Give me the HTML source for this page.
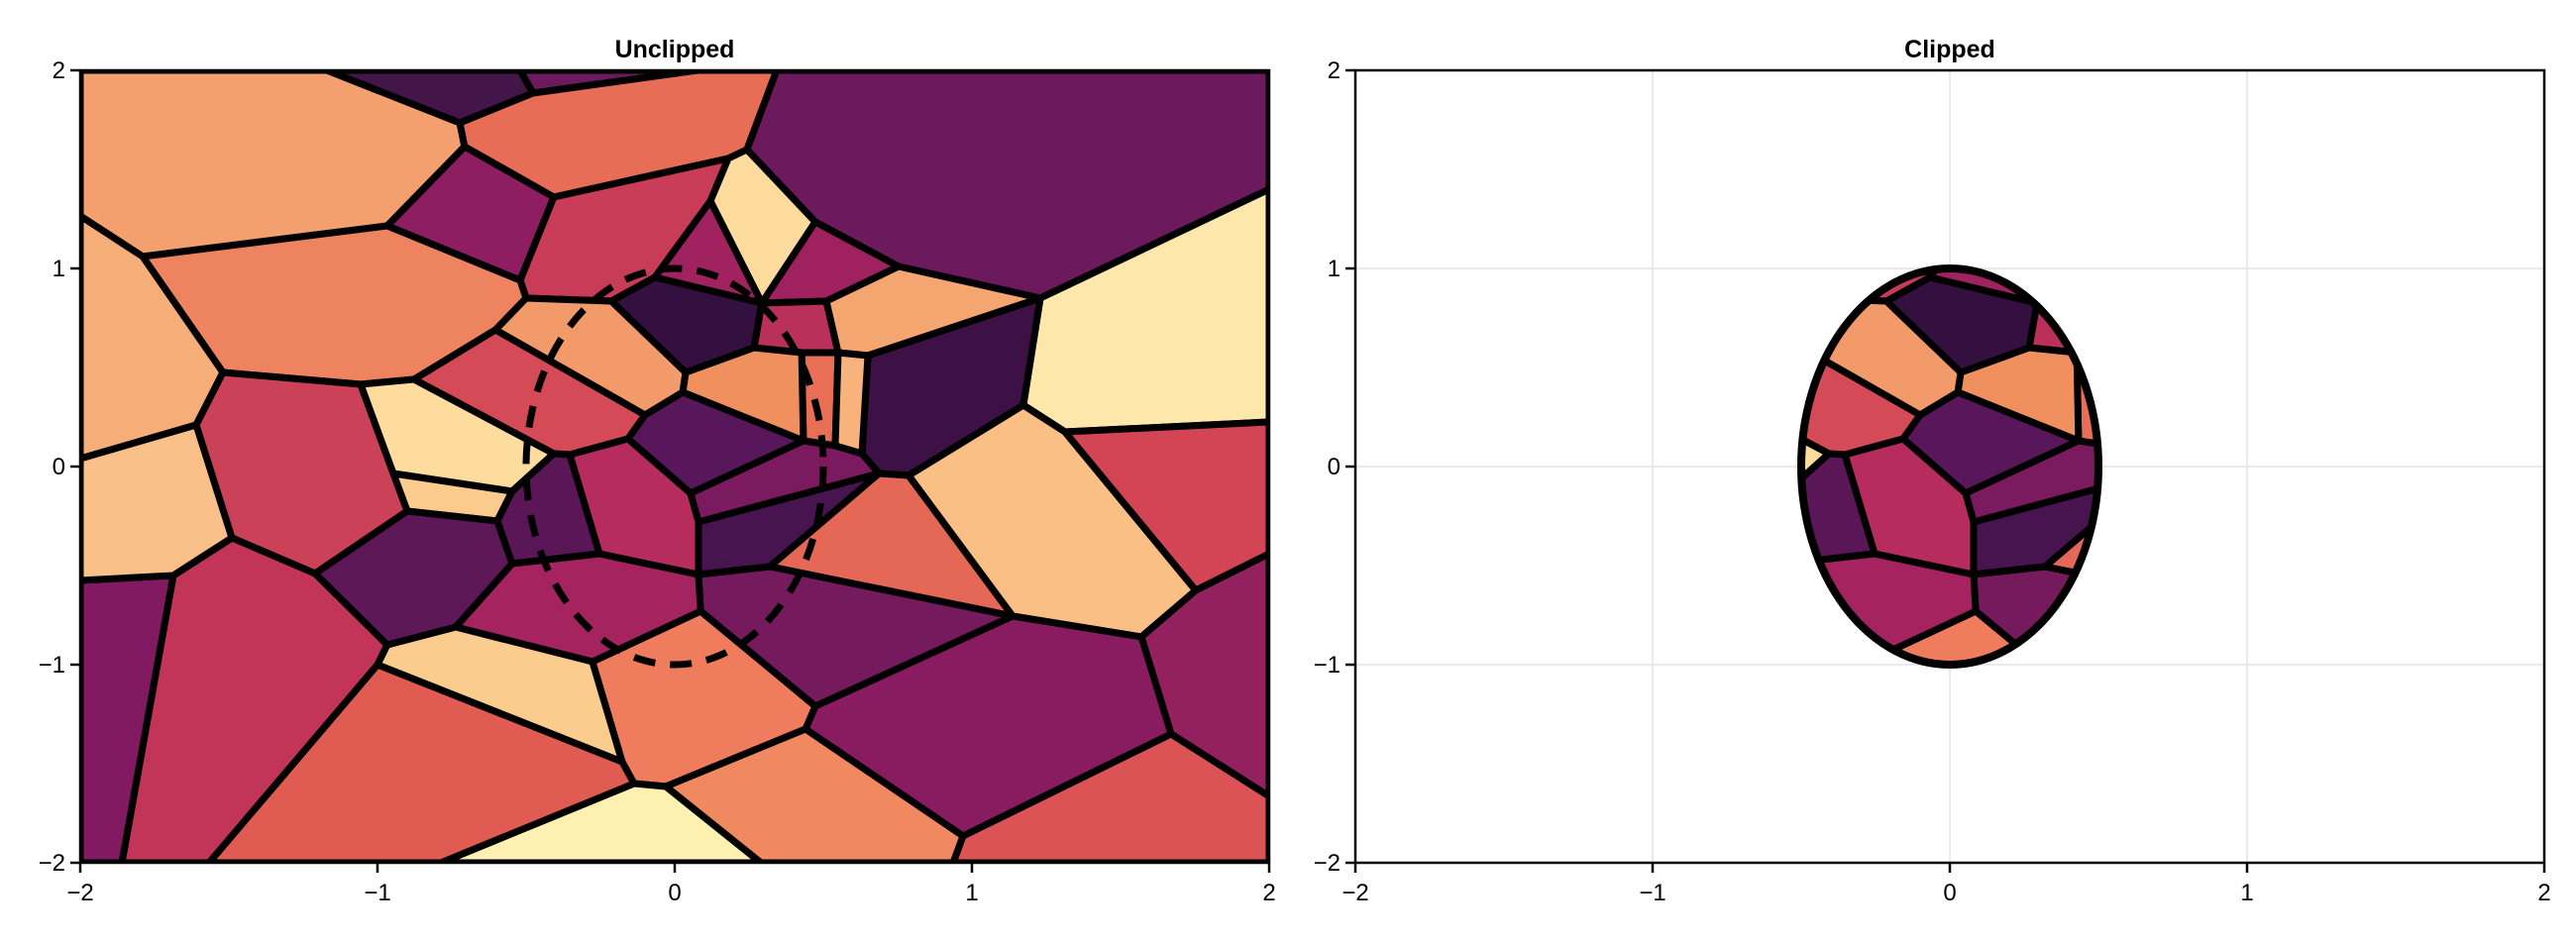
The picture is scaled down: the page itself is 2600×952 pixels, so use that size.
<!DOCTYPE html>
<html><head><meta charset="utf-8"><style>
html,body{margin:0;padding:0;background:#fff}
svg{display:block}
text{font-family:"Liberation Sans",Arial,sans-serif;fill:#000}
</style></head><body>
<svg id="chart" width="2600" height="952" viewBox="0 0 2600 952" xmlns="http://www.w3.org/2000/svg">
<defs>
<clipPath id="clipL"><rect x="81" y="71" width="1200" height="800"/></clipPath>
<clipPath id="clipE"><ellipse id="clipEll" cx="0" cy="0" rx="0" ry="0"/></clipPath>
</defs>
<g id="panelL"></g>
<g id="panelR"></g>
</svg>
<script>
// ---- data (data coordinates) ----
const vertexNames = ["TL","TR","BL","BR","v1","v2","v3","v4","P","v5","v6","v7","v8","v9","v10","v11","v12","v13","v14","v15","v16","v17","v18","v19","v20a","v20b","v21","v22","w1","w2","w3","w4","w5","w6","w7","w8","w9","w10","w11","w12","w13","w14","w15","w16","w17","w18","w19","w20","w21","w22","s2","s4","s5","s6","s7","s8","s9","t10","t12","t13","t14","t15","t16","t17","t18","t19","t21","u2","u3","u4","u5","u6","u7","Q","u9","u10","u12","u13","u16","u17","u18","u19","u21","u22","u23","u25","u26","B"];
const vertexX = [-2,2,-2,2,-1.17,-0.723,-0.52,-0.477,0.077,-0.707,-0.407,-0.967,-2,-1.79,-0.52,-0.5,-0.213,-0.067,-0.603,-1.52,-1.057,-0.877,-0.1,-0.157,-0.407,-0.353,-1.61,-2,0.343,0.243,0.18,0.12,0.473,0.753,0.293,0.51,1.23,2,0.267,0.427,0.55,0.65,0.037,0.027,1.173,1.313,2,0.433,0.54,0.63,0.053,0.08,0.687,0.787,0.08,0.32,0.087,1.137,1.57,1.753,2,0.473,0.44,1.67,0.97,2,0.937,-1.49,-1.687,-2,-1.86,-1.21,-0.9,-0.947,-0.597,-0.547,-0.547,-0.253,-0.737,-0.967,-1,-0.277,-0.177,-0.137,-0.03,-1.567,-0.787,0.29];
const vertexY = [2,2,-2,-2,2,1.735,2,1.885,2,1.615,1.36,1.215,1.265,1.06,0.94,0.85,0.835,0.955,0.69,0.475,0.415,0.44,0.26,0.14,0.065,0.06,0.21,0.04,2,1.6,1.555,1.34,1.235,1.01,0.825,0.835,0.85,1.4,0.6,0.575,0.575,0.56,0.475,0.375,0.31,0.175,0.225,0.13,0.105,0.065,-0.135,-0.28,-0.035,-0.045,-0.545,-0.505,-0.73,-0.755,-0.86,-0.625,-0.44,-1.21,-1.325,-1.35,-1.865,-1.665,-2,-0.36,-0.55,-0.575,-2,-0.54,-0.225,-0.035,-0.275,-0.125,-0.49,-0.44,-0.81,-0.9,-1,-0.985,-1.49,-1.6,-1.615,-2,-2,-2];
const cellVerts = [
"TL v1 v2 v5 v7 v9 v8","v1 v3 v4 v2","v3 P v4","v4 P w1 w2 w3 v6 v5 v2","v5 v6 v10 v7",
"v6 w3 w4 v13 v12 v11 v10","v7 v10 v11 v14 v17 v16 v15 v9","v8 v9 v15 v21 v22","v11 v12 w15 w16 v18 v14",
"v14 v18 v19 v20b v20a v17","v16 v17 v20a u10 Q","Q u10 u9 u7","u10 v20a v20b u13 u12 u9","v15 v16 Q u7 u6 u2 v21",
"w1 TR w10 w9 w6 w5 w2","w9 w10 w19 w18 w17","w2 w5 w7 w4 w3","w4 w7 v13","w5 w6 w8 w7","v12 v13 w7 w11 w15",
"w7 w8 w13 w12 w11","w8 w6 w9 w14 w13","w14 w9 w17 s6 s5 w22","w12 w13 w21 w20","w13 w14 w22 w21",
"w15 w11 w12 w20 w16","v18 w16 w20 s2 v19","s2 w20 w21 w22 s5 s4","s4 s5 s8 s7","s8 s5 s6 t10",
"s7 s8 t10 t15 s9","s6 w17 w18 t13 t12 t10","w18 w19 t14 t13","t13 t14 t19 t17 t12","t10 t12 t17 t18 t16 t15",
"u19 s9 t15 t16 u23 u22 u21","u23 t16 t18 t21 B","t18 t17 t19 BR t21","u22 u23 B u26","u18 u21 u22 u26 u25",
"u3 u2 u6 u17 u18 u25 u5","u4 u3 u5 BL","v22 v21 u2 u3 u4","u12 u13 s7 s9 u19 u16","v20b v19 s2 s4 s7 u13",
"u17 u16 u19 u21 u18","u7 u9 u12 u16 u17 u6"];
const cellColors = ["#F4A06E","#431549","#6B1A5E","#E86D57","#8F1D61","#C83C58","#EE835F","#F6AE78","#F39A6B",
"#D44A56","#FDDC9E","#FBCB8E","#5B1657","#CB4158","#6C1A5D","#FDE7AA","#FDDB9C","#A0225F","#9F225F","#341040",
"#B9305C","#F4A570","#3D1145","#E86F56","#F8B37C","#F0905F","#57175A","#7C1A5F","#481450","#E56756",
"#741A5D","#F9BF85","#D34455","#93205F","#891C60","#EF7C5C","#F08960","#DC5356","#FEF0B0","#E05C53",
"#C33558","#811A60","#F9C089","#A5245F","#B52C5D","#FACC8E","#5E1757"];
const ellipseRx = [0.5];
const ellipseRy = [1];
const ticks = [-2,-1,0,1,2];
const tickLabels = ["−2","−1","0","1","2"];

const NS="http://www.w3.org/2000/svg";
const svg=document.getElementById('chart');
function mk(tag,attrs,parent){const e=document.createElementNS(NS,tag);for(const k in attrs)e.setAttribute(k,attrs[k]);parent.appendChild(e);return e;}
const Y0=71,Y1=871;
function sy(v){return Y0+(2-v)/4*(Y1-Y0);}
function makeSx(x0,x1){return v=>x0+(v+2)/4*(x1-x0);}
const vidx={};vertexNames.forEach((n,i)=>vidx[n]=i);

function drawPanel(g,x0,x1,title,clipped){
  const sx=makeSx(x0,x1);
  // grid
  ticks.forEach(t=>{
    const gx=mk('line',{x1:sx(t),x2:sx(t),y1:Y0,y2:Y1,stroke:'#e3e3e3','stroke-width':1.5},g);
    
    
    const gy=mk('line',{x1:x0,x2:x1,y1:sy(t),y2:sy(t),stroke:'#e3e3e3','stroke-width':1.5},g);
    
    
  });
  const cg=mk('g',{'clip-path':clipped?'url(#clipE)':'url(#clipL)'},g);
  
  
  cellVerts.forEach((c,i)=>{
    const pts=c.split(' ').map(n=>{const k=vidx[n];return sx(vertexX[k]).toFixed(1)+','+sy(vertexY[k]).toFixed(1);}).join(' ');
    const p=mk('polygon',{points:pts,fill:cellColors[i],stroke:'#000','stroke-width':7,'stroke-linejoin':'round'},cg);
    
    
  });
  const cx=sx(0),cy=sy(0),rx=sx(ellipseRx[0])-sx(0),ry=sy(0)-sy(ellipseRy[0]);
  if(clipped){
    const ce=document.getElementById('clipEll');
    ce.setAttribute('cx',cx);ce.setAttribute('cy',cy);ce.setAttribute('rx',rx);ce.setAttribute('ry',ry);
    const e=mk('ellipse',{cx:cx,cy:cy,rx:rx,ry:ry,fill:'none',stroke:'#000','stroke-width':8},g);
    
    
  } else {
    const e=mk('ellipse',{cx:cx,cy:cy,rx:rx,ry:ry,fill:'none',stroke:'#000','stroke-width':7,'stroke-dasharray':'22 15'},g);
    
    
  }
  const fr=mk('rect',{x:x0,y:Y0,width:x1-x0,height:Y1-Y0,fill:'none',stroke:'#000','stroke-width':2.5},g);
  
  
  ticks.forEach((t,i)=>{
    const tx=mk('line',{x1:sx(t),x2:sx(t),y1:Y1,y2:Y1+10,stroke:'#000','stroke-width':2.5},g);
    
    
    const lx=mk('text',{x:sx(t),y:Y1+38,'font-size':24,'text-anchor':'middle'},g);
    lx.textContent=tickLabels[i];
    
    
    const ty=mk('line',{x1:x0-10,x2:x0,y1:sy(t),y2:sy(t),stroke:'#000','stroke-width':2.5},g);
    
    
    const ly=mk('text',{x:x0-15,y:sy(t)+8,'font-size':24,'text-anchor':'end'},g);
    ly.textContent=tickLabels[i];
    
    
  });
  const tt=mk('text',{x:(x0+x1)/2,y:58,'font-size':25,'font-weight':'bold','text-anchor':'middle'},g);
  tt.textContent=title;
  
  
}
drawPanel(document.getElementById('panelL'),81,1281,'Unclipped',false);
drawPanel(document.getElementById('panelR'),1368,2568,'Clipped',true);
</script>
</body></html>
